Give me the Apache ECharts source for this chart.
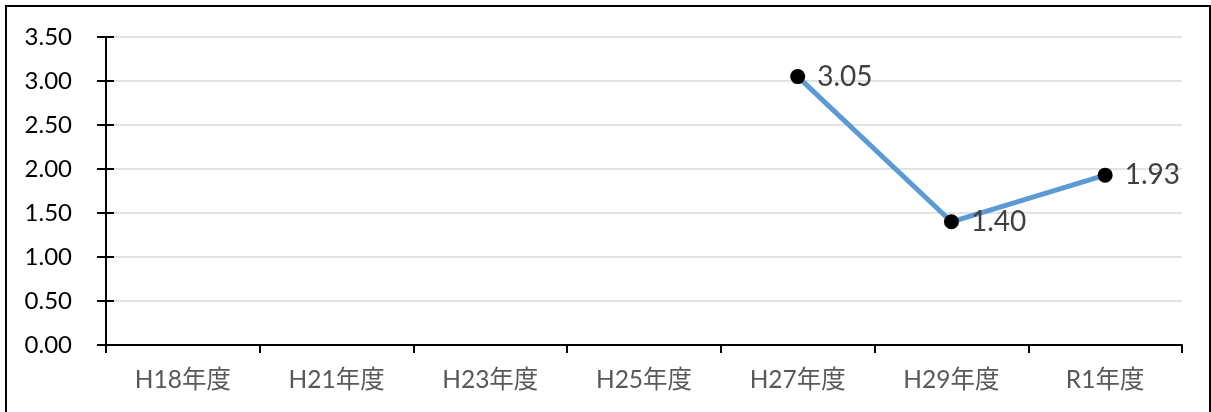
<!DOCTYPE html>
<html><head><meta charset="utf-8">
<script src="https://cdn.jsdelivr.net/npm/echarts@6/dist/echarts.min.js"></script>
<style>html,body{margin:0;padding:0;background:#fff}#c{width:1211px;height:412px}</style>
</head><body><div id="c"></div>
<script>
const categories = ['H18年度','H21年度','H23年度','H25年度','H27年度','H29年度','R1年度'];
const seriesValues = [null, null, null, null, 3.05, 1.40, 1.93];
const yMin = 0, yMax = 3.5, yStep = 0.5;

const FONT = "Lato, 'Noto Sans CJK JP', sans-serif";
const chart = echarts.init(document.getElementById('c'));
chart.setOption({
  animation: false,
  backgroundColor: '#fff',
  graphic: [{
    type: 'rect', z: 100, silent: true,
    shape: {x: 6, y: 6, width: 1204, height: 430},
    style: {fill: 'none', stroke: '#000', lineWidth: 2}
  }],
  grid: {left: 106, right: 29, top: 37, bottom: 67, containLabel: false},
  xAxis: {
    type: 'category', data: categories, boundaryGap: true,
    axisLine: {lineStyle: {color: '#000', width: 2}},
    axisTick: {show: true, inside: false, length: 8, lineStyle: {color: '#000', width: 2}},
    axisLabel: {color: '#595959', fontSize: 24.5, fontFamily: FONT, margin: 23},
    splitLine: {show: false}
  },
  yAxis: [{
    type: 'value', min: yMin, max: yMax, interval: yStep, position: 'left',
    axisLine: {show: true, lineStyle: {color: '#000', width: 2}},
    axisTick: {show: true, inside: false, length: 9, lineStyle: {color: '#000', width: 2}},
    axisLabel: {color: '#000', fontSize: 24, fontFamily: FONT, margin: 34,
      formatter: v => v.toFixed(2)},
    splitLine: {show: true, lineStyle: {color: '#D9D9D9', width: 1.5}}
  }, {
    type: 'value', min: yMin, max: yMax, interval: yStep, position: 'left',
    axisLine: {show: false},
    axisTick: {show: true, inside: true, length: 8, lineStyle: {color: '#000', width: 2}},
    axisLabel: {show: false},
    splitLine: {show: false}
  }],
  series: [{
    type: 'line', data: seriesValues, yAxisIndex: 0,
    symbol: 'circle', symbolSize: 15,
    itemStyle: {color: '#000'},
    lineStyle: {color: '#5B9BD5', width: 5},
    label: {show: true, position: 'right', distance: 12, color: '#404040',
      fontSize: 28, fontFamily: FONT, formatter: p => p.value.toFixed(2)},
    z: 5
  }]
});
</script></body></html>
